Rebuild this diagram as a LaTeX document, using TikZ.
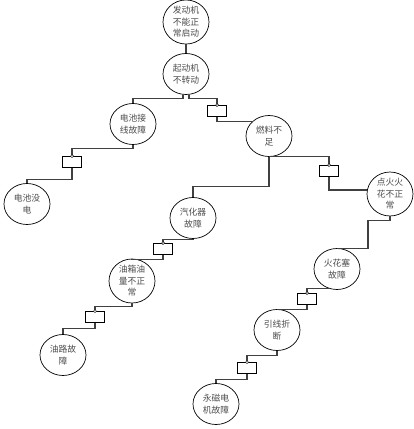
\documentclass[tikz,border=0pt]{standalone}
\usepackage{fontspec}
\newfontfamily\cjk{Noto Sans CJK SC}
\usetikzlibrary{shapes.geometric}
\begin{document}
\begin{tikzpicture}[x=1pt,y=-1pt,
  ev/.style={ellipse, draw=black, line width=0.7pt, minimum width=46pt, minimum height=41pt,
    inner sep=0pt, align=center, font=\cjk\fontsize{8.8}{11.5}\selectfont, text=black!70},
  gate/.style={rectangle, draw=black, line width=0.8pt, minimum width=19pt, minimum height=11pt,
    inner sep=0pt, fill=white},
  conn/.style={draw=black!75, line width=1.1pt},
  knob/.style={draw=black, fill=white, line width=0.5pt}]
\useasboundingbox (0,0) rectangle (414,429);
% events
\node[ev] (n1) at (186,22) {发动机\\不能正\\常启动};
\node[ev] (n2) at (186,74) {起动机\\不转动};
\node[ev] (n3) at (133,124) {电池接\\线故障};
\node[ev] (n4) at (269,136) {燃料不\\足};
\node[ev] (n5) at (27,204) {电池没\\电};
\node[ev] (n6) at (193,218) {汽化器\\故障};
\node[ev] (n7) at (390,194) {点火火\\花不正\\常};
\node[ev] (n8) at (132,281) {油箱油\\量不正\\常};
\node[ev] (n9) at (337,269) {火花塞\\故障};
\node[ev] (n10) at (63,355) {油路故\\障};
\node[ev] (n11) at (277,330) {引线折\\断};
\node[ev] (n12) at (216,404) {永磁电\\机故障};
% gates
\node[gate] (gA) at (217,111) {};
\node[gate] (gB) at (72,162) {};
\node[gate] (gC) at (329,171) {};
\node[gate] (gD) at (163,249) {};
\node[gate] (gE) at (95,317) {};
\node[gate] (gF) at (307,299) {};
\node[gate] (gG) at (247,368) {};
% connectors
\draw[conn] (n1.south) -- (n2.north);
\draw[conn] ([xshift=-3pt]n2.south) -- ++(0,4) -| (n3.north);
\draw[conn] ([xshift=3pt]n2.south) -- ++(0,4) -| (gA.north);
\draw[conn] (gA.south) |- (n4.140);
\draw[conn] (n3.south) -- ++(0,4) -| (gB.north);
\draw[conn] (gB.south) -- ++(0,12) -| (n5.north);
\draw[conn] (n4.south) -| (gC.north);
\draw[conn] (gC.south) |- (n7.170);
\draw[conn] (n4.south) -- ++(0,30) -| (n6.north);
\draw[conn] (n6.south) -- ++(0,1) -| (gD.north);
\draw[conn] (gD.south) -- ++(0,5) -| (n8.north);
\draw[conn] (n8.south) -- ++(0,3) -| (gE.north);
\draw[conn] (gE.south) -- ++(0,6) -| (n10.north);
\draw[conn] (n7.south) -- ++(0,4) -- ++(-22,0) |- (n9.north);
\draw[conn] (n9.250) -| (gF.north);
\draw[conn] (gF.south) |- (n11.north);
\draw[conn] (n11.south) -- ++(0,5) -| (gG.north);
\draw[conn] (gG.south) -- ++(0,6) -| (n12.north);
% gate knobs
\foreach \g in {gA,gB,gC,gD,gE,gF,gG} \draw[knob] (\g.north) circle (1.5pt);
\end{tikzpicture}
\end{document}
